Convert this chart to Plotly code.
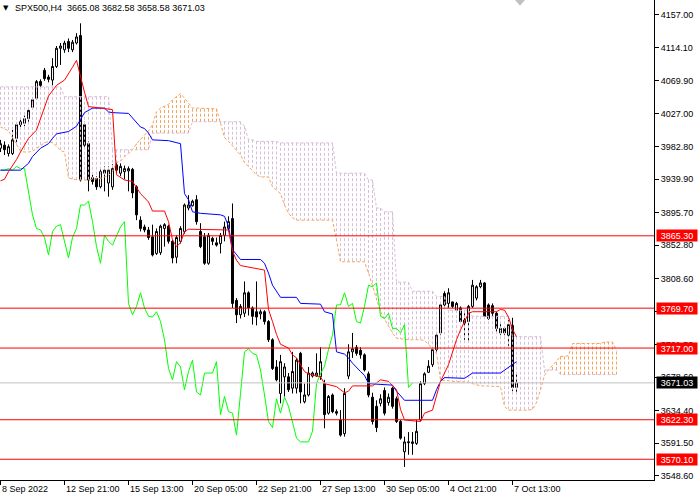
import plotly.graph_objects as go

SYMBOL = "SPX500,H4"
LAST_OHLC = ["3665.08", "3682.58", "3658.58", "3671.03"]

# H4 candles, one per bar (bar 0 = 8 Sep 2022, bar 129 = 7 Oct 17:00)
OPEN = [3981, 3985, 3974, 3974, 3994, 4012, 4014, 4020, 4035, 4047,
        4069, 4084, 4075, 4071, 4089, 4113, 4111, 4122, 4111, 4120,
        4130, 4012, 3987, 3942, 3941, 3930, 3948, 3935, 3930, 3959,
        3948, 3950, 3951, 3953, 3930, 3886, 3877, 3873, 3864, 3842,
        3843, 3875, 3878, 3858, 3837, 3858, 3871, 3902, 3905, 3913,
        3871, 3864, 3829, 3862, 3856, 3855, 3866, 3875, 3888, 3780,
        3761, 3763, 3790, 3770, 3765, 3762, 3765, 3752, 3728, 3692,
        3657, 3679, 3679, 3664, 3664, 3710, 3646, 3655, 3680, 3680,
        3679, 3670, 3631, 3655, 3633, 3622, 3604, 3680, 3712, 3718,
        3714, 3708, 3683, 3652, 3640, 3644, 3661, 3645, 3664, 3650,
        3620, 3580, 3592, 3591, 3591, 3622, 3670, 3685, 3695, 3715,
        3737, 3789, 3776, 3778, 3767, 3770, 3754, 3752, 3772, 3783,
        3798, 3803, 3774, 3773, 3763, 3737, 3743, 3734, 3747, 3665.08]
HIGH = [3992, 3990, 3986, 4005, 4014, 4020, 4024, 4035, 4048, 4071,
        4072, 4087, 4078, 4100, 4116, 4120, 4123, 4126, 4124, 4133,
        4146, 4016, 3990, 3946, 3944, 3955, 3957, 3957, 3960, 3963,
        3961, 3958, 3957, 3955, 3932, 3891, 3880, 3877, 3880, 3875,
        3880, 3882, 3880, 3860, 3866, 3878, 3908, 3919, 3913, 3919,
        3882, 3869, 3869, 3864, 3863, 3869, 3884, 3891, 3908, 3783,
        3775, 3805, 3792, 3772, 3805, 3768, 3767, 3754, 3730, 3701,
        3708, 3697, 3684, 3712, 3704, 3712, 3670, 3692, 3686, 3710,
        3718, 3675, 3655, 3657, 3636, 3635, 3664, 3722, 3737, 3721,
        3718, 3710, 3686, 3658, 3648, 3656, 3665, 3657, 3666, 3653,
        3622, 3600, 3606, 3606, 3622, 3673, 3685, 3701, 3716, 3737,
        3776, 3792, 3796, 3778, 3778, 3772, 3763, 3774, 3807, 3800,
        3807, 3804, 3776, 3776, 3765, 3750, 3745, 3754, 3757, 3682.58]
LOW = [3976, 3972, 3970, 3972, 3987, 4008, 4010, 4016, 4032, 4045,
       4060, 4070, 4068, 4064, 4087, 4091, 4107, 4108, 4108, 4118,
       3937, 3980, 3924, 3933, 3926, 3928, 3924, 3917, 3926, 3948,
       3944, 3940, 3924, 3915, 3886, 3871, 3870, 3860, 3838, 3840,
       3840, 3851, 3855, 3829, 3829, 3855, 3868, 3899, 3904, 3880,
       3849, 3827, 3827, 3853, 3851, 3842, 3858, 3871, 3770, 3750,
       3756, 3758, 3760, 3748, 3747, 3755, 3748, 3725, 3688, 3673,
       3644, 3653, 3659, 3657, 3657, 3644, 3644, 3653, 3678, 3679,
       3675, 3611, 3629, 3631, 3628, 3600, 3600, 3676, 3704, 3707,
       3703, 3686, 3652, 3616, 3606, 3640, 3628, 3641, 3637, 3618,
       3596, 3560, 3576, 3576, 3589, 3620, 3668, 3684, 3692, 3712,
       3734, 3772, 3770, 3770, 3765, 3750, 3728, 3725, 3770, 3780,
       3796, 3756, 3754, 3758, 3738, 3734, 3734, 3720, 3660, 3658.58]
CLOSE = [3987, 3979, 3983, 3992, 4012, 4016, 4020, 4031, 4045, 4069,
         4064, 4073, 4072, 4089, 4113, 4116, 4120, 4113, 4121, 4128,
         3939, 3985, 3939, 3937, 3930, 3950, 3952, 3952, 3954, 3952,
         3957, 3954, 3954, 3922, 3893, 3875, 3873, 3863, 3840, 3871,
         3878, 3880, 3858, 3836, 3863, 3875, 3906, 3906, 3911, 3884,
         3851, 3829, 3866, 3858, 3853, 3866, 3877, 3884, 3776, 3761,
         3772, 3790, 3770, 3759, 3758, 3765, 3752, 3728, 3690, 3675,
         3699, 3692, 3662, 3686, 3701, 3659, 3655, 3684, 3684, 3684,
         3699, 3629, 3653, 3633, 3631, 3602, 3657, 3712, 3716, 3710,
         3708, 3688, 3655, 3620, 3612, 3650, 3631, 3652, 3640, 3620,
         3598, 3593, 3593, 3593, 3607, 3670, 3683, 3693, 3715, 3734,
         3774, 3774, 3790, 3772, 3776, 3752, 3750, 3772, 3800, 3798,
         3803, 3759, 3756, 3763, 3743, 3743, 3737, 3748, 3665, 3671.03]

# Ichimoku lines (bar index -> price)
TENKAN_BAR = [0, 1, 2, 4, 5, 7, 9, 10, 12, 14, 16, 18, 19, 21, 22, 28, 29, 31, 33, 35,
              37, 38, 41, 42, 43, 44, 45, 46, 47, 57, 58, 59, 60, 66, 67, 68, 69, 70, 72, 73,
              74, 76, 77, 80, 81, 84, 86, 87, 88, 93, 95, 97, 99, 100, 101, 105, 106, 108, 110, 111,
              112, 114, 115, 117, 118, 124, 125, 126, 127, 128, 129]
TENKAN_VAL = [3938, 3940, 3950, 3966, 3976, 3994, 4005, 4020, 4050, 4064,
              4071, 4088, 4097, 4055, 4036, 4032, 3946, 3939, 3937, 3921,
              3910, 3898, 3898, 3884, 3860, 3851, 3856, 3871, 3874, 3873,
              3845, 3833, 3826, 3820, 3768, 3752, 3735, 3722, 3717, 3708,
              3704, 3686, 3683, 3679, 3670, 3666, 3658, 3660, 3667, 3667,
              3675, 3673, 3662, 3636, 3622, 3620, 3631, 3635, 3673, 3684,
              3695, 3728, 3741, 3763, 3765, 3765, 3768, 3767, 3758, 3742, 3732]
KIJUN_BAR = [0, 5, 7, 8, 10, 12, 13, 14, 17, 19, 20, 21, 23, 26, 27, 28, 32, 33, 35, 36,
             37, 38, 42, 45, 46, 47, 48, 50, 55, 56, 57, 58, 60, 65, 66, 67, 68, 70, 74, 75,
             80, 81, 83, 84, 86, 87, 88, 90, 91, 92, 98, 99, 101, 108, 109, 110, 111, 116, 118, 125,
             126, 127, 128, 129]
KIJUN_VAL = [3952, 3952, 3961, 3970, 3981, 3987, 3994, 4000, 4003, 4010,
             4019, 4028, 4034, 4034, 4029, 4028, 4027, 4021, 4009, 4007,
             4001, 3992, 3991, 3987, 3921, 3913, 3897, 3895, 3893, 3891,
             3878, 3847, 3834, 3834, 3829, 3816, 3800, 3784, 3784, 3776,
             3775, 3765, 3762, 3712, 3709, 3704, 3697, 3686, 3681, 3670,
             3668, 3660, 3648, 3648, 3662, 3673, 3678, 3677, 3684, 3684,
             3688, 3692, 3695, 3699]

# Senkou spans, one value per bar (runs 26 bars past the last candle)
SPAN_A = [4009, 4007, 4004, 3995, 3985, 3977, 3976, 3976, 3977, 3981,
          3985, 3988, 3990, 3988, 3984, 3978, 3976, 3942, 3940, 3939,
          3939, 3939, 3939, 3940, 3941, 3941, 3943, 3945, 3950, 3962,
          3964, 3970, 3974, 3979, 3987, 3993, 3998, 4004, 4012, 4029,
          4034, 4036, 4039, 4045, 4049, 4053, 4047, 4040, 4034, 4034,
          4034, 4034, 4034, 4034, 4033, 4014, 3995, 3990, 3984, 3978,
          3972, 3962, 3957, 3952, 3946, 3943, 3943, 3943, 3930, 3925,
          3921, 3906, 3895, 3889, 3886, 3886, 3886, 3886, 3886, 3886,
          3886, 3886, 3886, 3886, 3860, 3831, 3831, 3831, 3831, 3831,
          3831, 3831, 3816, 3798, 3780, 3765, 3755, 3745, 3737, 3730,
          3729, 3729, 3728, 3728, 3728, 3728, 3727, 3722, 3716, 3710,
          3675, 3674, 3674, 3673, 3673, 3673, 3673, 3672, 3670, 3668,
          3667, 3667, 3667, 3666, 3666, 3666, 3640, 3635, 3635, 3635,
          3635, 3635, 3635, 3636, 3645, 3662, 3681, 3688, 3694, 3700,
          3706, 3706, 3707, 3723, 3723, 3723, 3723, 3723, 3723, 3723,
          3723, 3725, 3725, 3725, 3714]
SPAN_B = [4062, 4062, 4062, 4062, 4062, 4062, 4062, 4062, 4062, 4062,
          4062, 4062, 4062, 4062, 4062, 4062, 4049, 4049, 4049, 4049,
          4049, 4049, 4049, 4049, 4049, 4049, 4049, 4049, 3979, 3979,
          3979, 3979, 3979, 3979, 3979, 3979, 3979, 3979, 4001, 4001,
          4001, 4001, 4001, 4001, 4001, 4001, 4001, 4001, 4016, 4016,
          4016, 4016, 4016, 4016, 4016, 4016, 4016, 4016, 4016, 4016,
          4016, 4010, 3992, 3992, 3990, 3990, 3990, 3990, 3990, 3990,
          3988, 3988, 3988, 3988, 3988, 3988, 3988, 3988, 3988, 3988,
          3988, 3988, 3988, 3988, 3948, 3948, 3948, 3948, 3948, 3948,
          3948, 3948, 3939, 3939, 3902, 3902, 3897, 3897, 3897, 3804,
          3804, 3804, 3804, 3792, 3792, 3792, 3792, 3792, 3792, 3785,
          3785, 3785, 3767, 3767, 3767, 3767, 3767, 3767, 3759, 3759,
          3759, 3759, 3759, 3759, 3759, 3759, 3759, 3759, 3732, 3732,
          3732, 3732, 3732, 3732, 3732, 3732, 3688, 3688, 3688, 3688,
          3682, 3682, 3682, 3682, 3682, 3682, 3682, 3682, 3682, 3682,
          3682, 3682, 3682, 3682, 3682]
CHIKOU_SHIFT = 26

LEVELS = [3865.30, 3769.70, 3717.00, 3622.30, 3570.10]
BID = 3671.03

Y_TICKS = [4157.00, 4114.10, 4069.90, 4027.00, 3982.80, 3939.90, 3895.70, 3852.80,
           3808.60, 3765.70, 3721.50, 3678.60, 3634.40, 3591.50, 3548.60]
TIME_TICK_BARS = [0, 16, 32, 48, 64, 80, 96, 112, 128]
TIME_TICK_TEXT = ["8 Sep 2022", "12 Sep 21:00", "15 Sep 13:00", "20 Sep 05:00", "22 Sep 21:00",
                  "27 Sep 13:00", "30 Sep 05:00", "4 Oct 21:00", "7 Oct 13:00"]

FONT = "Liberation Sans, Arial, sans-serif"
THISTLE = "#D8BFD8"
SANDY = "#F4A460"
DOT = "3px,2px"

bars = list(range(len(CLOSE)))
fig = go.Figure()

fig.add_trace(go.Candlestick(
    x=bars, open=OPEN, high=HIGH, low=LOW, close=CLOSE,
    increasing=dict(line=dict(color="black", width=1), fillcolor="white"),
    decreasing=dict(line=dict(color="black", width=1), fillcolor="black"),
    whiskerwidth=0, hoverinfo="skip", showlegend=False,
))


def hatch(bull):
    xs, ys = [], []
    for i, (a, b) in enumerate(zip(SPAN_A, SPAN_B)):
        if (a >= b) == bull:
            xs += [i, i, None]
            ys += [b, a, None]
    return xs, ys


for bull, color in [(False, THISTLE), (True, SANDY)]:
    hx, hy = hatch(bull)
    fig.add_trace(go.Scatter(x=hx, y=hy, mode="lines", line=dict(color=color, width=1, dash=DOT),
                             hoverinfo="skip", showlegend=False))

span_x = list(range(len(SPAN_A)))
fig.add_trace(go.Scatter(x=span_x, y=SPAN_B, mode="lines", line=dict(color=THISTLE, width=1, dash=DOT),
                         hoverinfo="skip", showlegend=False))
fig.add_trace(go.Scatter(x=span_x, y=SPAN_A, mode="lines", line=dict(color=SANDY, width=1, dash=DOT),
                         hoverinfo="skip", showlegend=False))

fig.add_trace(go.Scatter(x=[b - CHIKOU_SHIFT for b in bars], y=CLOSE, mode="lines",
                         line=dict(color="#00FF00", width=1), hoverinfo="skip", showlegend=False))
fig.add_trace(go.Scatter(x=KIJUN_BAR, y=KIJUN_VAL, mode="lines",
                         line=dict(color="#0000FF", width=1), hoverinfo="skip", showlegend=False))
fig.add_trace(go.Scatter(x=TENKAN_BAR, y=TENKAN_VAL, mode="lines",
                         line=dict(color="#FF0000", width=1), hoverinfo="skip", showlegend=False))

shapes = [dict(type="line", xref="paper", x0=0, x1=1, yref="y", y0=BID, y1=BID,
               line=dict(color="#C0C0C0", width=1))]
for lv in LEVELS:
    shapes.append(dict(type="line", xref="paper", x0=0, x1=1, yref="y", y0=lv, y1=lv,
                       line=dict(color="#FF0000", width=1)))
# chart-shift marker at the top
shapes.append(dict(type="path", xref="paper", yref="paper",
                   path="M 0.7875 1 L 0.8028 1 L 0.7951 0.988 Z",
                   fillcolor="#C0C0C0", line=dict(color="#C0C0C0", width=0)))

annotations = []
for lv in LEVELS:
    annotations.append(dict(x=1, xref="paper", y=lv, yref="y", xanchor="left", xshift=2,
                            text=f"{lv:.2f}", showarrow=False, bgcolor="#FF0000",
                            font=dict(family=FONT, size=9, color="white"),
                            width=40, height=11, borderpad=0))
annotations.append(dict(x=1, xref="paper", y=BID, yref="y", xanchor="left", xshift=2,
                        text=f"{BID:.2f}", showarrow=False, bgcolor="black",
                        font=dict(family=FONT, size=9, color="white"),
                        width=40, height=11, borderpad=0))
for b, t in zip(TIME_TICK_BARS, TIME_TICK_TEXT):
    annotations.append(dict(x=b, xref="x", y=0, yref="paper", xanchor="left", yanchor="top",
                            xshift=-1, yshift=-2, text=t, showarrow=False,
                            font=dict(family=FONT, size=9, color="black")))
annotations.append(dict(x=0, xref="paper", y=1, yref="paper", xanchor="left", yanchor="top",
                        xshift=1, yshift=-2, text="▼", showarrow=False,
                        font=dict(family="DejaVu Sans", size=7, color="black")))
annotations.append(dict(x=0, xref="paper", y=1, yref="paper", xanchor="left", yanchor="top",
                        xshift=13, yshift=-1, text=f"{SYMBOL}  " + " ".join(LAST_OHLC),
                        showarrow=False, font=dict(family=FONT, size=9, color="black")))

fig.update_layout(
    width=700, height=500,
    margin=dict(l=0, r=46, t=0, b=20),
    paper_bgcolor="white", plot_bgcolor="white",
    showlegend=False, hovermode=False,
    font=dict(family=FONT, size=9, color="black"),
    shapes=shapes, annotations=annotations,
    xaxis=dict(range=[-0.125, 163.375], showgrid=False, zeroline=False,
               showline=True, linecolor="black", linewidth=1,
               ticks="outside", ticklen=4, tickcolor="black",
               tickvals=TIME_TICK_BARS, showticklabels=False,
               rangeslider=dict(visible=False)),
    yaxis=dict(side="right", range=[3542.7, 4176.8], showgrid=False, zeroline=False,
               showline=True, linecolor="black", linewidth=1,
               ticks="outside", ticklen=4, tickcolor="black",
               tickvals=Y_TICKS, ticktext=[f"{v:.2f}" for v in Y_TICKS],
               tickfont=dict(family=FONT, size=9, color="black")),
)

# the page's default body margin would push the 700x500 figure off its window
fig.write_html("out.html", config={"displayModeBar": False},
               post_script="document.body.style.margin = '0px';")
